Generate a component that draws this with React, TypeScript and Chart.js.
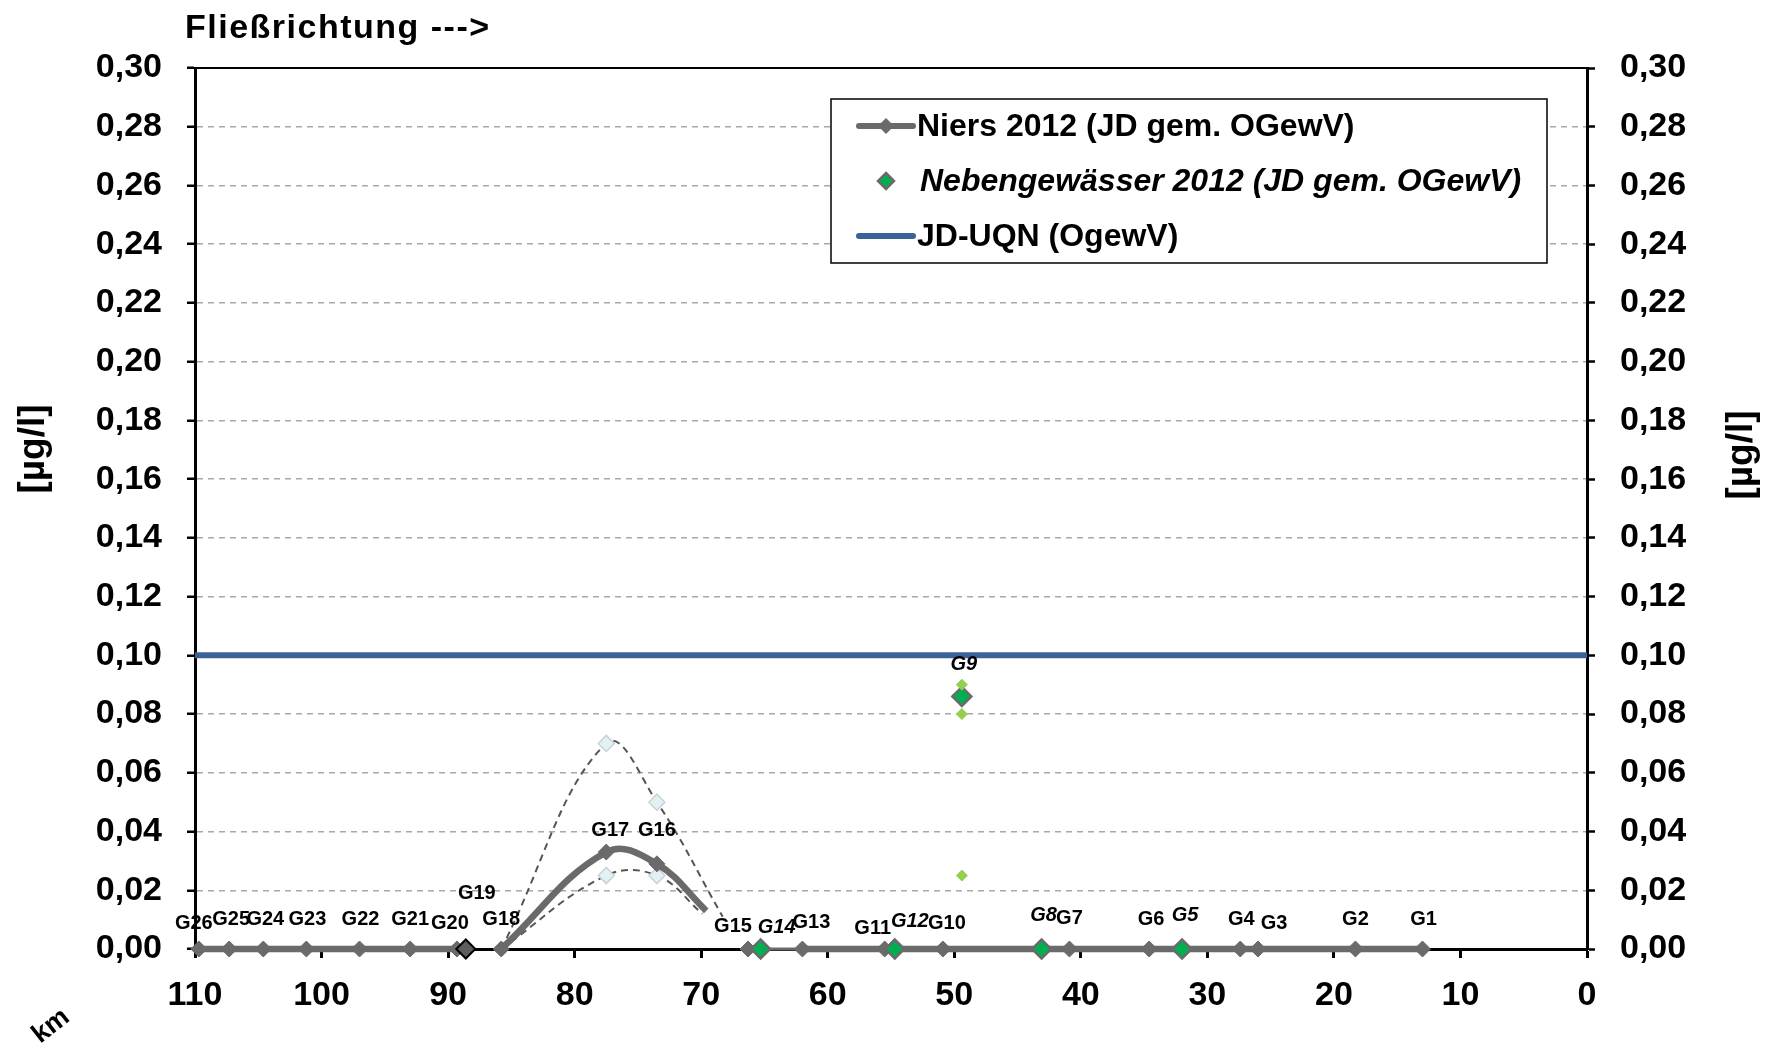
import { useEffect, useRef } from "react";
import { Chart, registerables } from "chart.js";

Chart.register(...registerables);

const FONT = '"Liberation Sans", Arial, Helvetica, sans-serif';

// ---------------- data ----------------
// Niers measuring points (km from mouth), annual mean (JD) and max / min envelope
const niersNames = ["G26", "G25", "G24", "G23", "G22", "G21", "G20", "G18", "G17", "G16", "G15", "G13", "G11", "G10", "G7", "G6", "G4", "G3", "G2", "G1"];
const niersKm = [109.7, 107.3, 104.6, 101.2, 97.0, 93.0, 89.3, 85.8, 77.5, 73.5, 66.3, 62.0, 55.5, 50.9, 40.9, 34.6, 27.4, 26.0, 18.3, 13.0];
const niersJD = [0, 0, 0, 0, 0, 0, 0, 0, 0.033, 0.029, 0, 0, 0, 0, 0, 0, 0, 0, 0, 0];
const niersMax = [0, 0, 0, 0, 0, 0, 0, 0, 0.070, 0.050, 0, 0, 0, 0, 0, 0, 0, 0, 0, 0];
const niersMin = [0, 0, 0, 0, 0, 0, 0, 0, 0.025, 0.025, 0, 0, 0, 0, 0, 0, 0, 0, 0, 0];
// line segments of the Niers series (index ranges, the line is broken between them)
const segA = [0, 7];
const segB = [7, 10];
const segC = [10, 20];
// where the smoothed lines after G16 stop (JD, max, min)
const tailKm = [69.6, 68.3, 69.9];
const tailValue = [0.013, 0.011, 0.012];

// G19 (separate marker)
const g19Km = 88.6;
const g19Value = 0;

// tributaries (Nebengewässer)
const nebenNames = ["G14", "G12", "G9", "G8", "G5"];
const nebenKm = [65.3, 54.7, 49.4, 43.1, 32.0];
const nebenJD = [0, 0, 0.086, 0, 0];
// single values at G9
const g9Km = 49.4;
const g9Singles = [0.090, 0.080, 0.025];

// environmental quality standard
const uqnValue = 0.10;

// axes
const xMin = 0;
const xMax = 110;
const xStep = 10;
const yMin = 0;
const yMax = 0.30;
const yStep = 0.02;

// ---------------- styles ----------------
const labelOffsets: Record<string, [number, number]> = {
  G26: [-5, -26], G25: [2, -30], G24: [2, -30], G23: [1, -30], G22: [1, -30], G21: [0, -30],
  G20: [-7, -26], G19: [11, -56], G18: [0, -30], G17: [4, -22], G16: [0, -33], G15: [-15, -23],
  G14: [16, -22], G13: [9, -27], G11: [-12, -21], G12: [15, -28], G10: [4, -26], G9: [2, -32],
  G8: [2, -34], G7: [0, -31], G6: [2, -30], G5: [3, -34], G4: [1, -30], G3: [16, -26],
  G2: [0, -30], G1: [1, -30],
};
const GRAY = "#6a6a6a";
const DASH_GRAY = "#555555";
const LIGHT_FILL = "#e2f1f3";
const LIGHT_BORDER = "#c9d3d5";
const GREEN = "#00b050";
const LIGHT_GREEN = "#92d050";
const BLUE = "#3b6296";

function pts(kms: number[], vals: number[], from: number, to: number) {
  const out: { x: number; y: number }[] = [];
  for (let i = from; i < to; i++) out.push({ x: kms[i], y: vals[i] });
  return out;
}

function diamond(ctx: CanvasRenderingContext2D, x: number, y: number, r: number) {
  ctx.beginPath();
  ctx.moveTo(x, y - r);
  ctx.lineTo(x + r, y);
  ctx.lineTo(x, y + r);
  ctx.lineTo(x - r, y);
  ctx.closePath();
}

const decorPlugin = {
  id: "decor",
  beforeDatasetsDraw(chart: any) {
    const { ctx, chartArea: a } = chart;
    ctx.save();
    ctx.strokeStyle = "#000";
    ctx.lineWidth = 2;
    ctx.beginPath();
    ctx.moveTo(a.left - 1, a.top);
    ctx.lineTo(a.right + 1, a.top);
    ctx.stroke();
    ctx.restore();
  },
  afterDatasetsDraw(chart: any) {
    const { ctx } = chart;
    const xs = chart.scales.x;
    const ys = chart.scales.y;
    ctx.save();
    ctx.fillStyle = "#000";
    ctx.textAlign = "center";
    ctx.textBaseline = "middle";
    const draw = (name: string, km: number, v: number, italic: boolean) => {
      const o = labelOffsets[name] || [0, -28];
      ctx.font = `${italic ? "italic " : ""}bold 20px ${FONT}`;
      ctx.fillText(name, xs.getPixelForValue(km) + o[0], ys.getPixelForValue(v) + o[1]);
    };
    niersNames.forEach((n, i) => draw(n, niersKm[i], niersJD[i], false));
    draw("G19", g19Km, g19Value, false);
    nebenNames.forEach((n, i) => draw(n, nebenKm[i], nebenJD[i], true));
    ctx.restore();
  },
  afterDraw(chart: any) {
    const { ctx } = chart;
    ctx.save();
    ctx.fillStyle = "#000";
    // title
    ctx.font = `bold 34px ${FONT}`;
    ctx.textAlign = "left";
    ctx.textBaseline = "alphabetic";
    try { (ctx as any).letterSpacing = "1.5px"; } catch (e) { /* ignore */ }
    ctx.fillText("Fließrichtung --->", 185, 38);
    try { (ctx as any).letterSpacing = "0px"; } catch (e) { /* ignore */ }
    // axis titles
    ctx.font = `bold 37px ${FONT}`;
    ctx.textAlign = "center";
    ctx.textBaseline = "middle";
    ctx.save();
    ctx.translate(34, 449);
    ctx.rotate(-Math.PI / 2);
    ctx.fillText("[µg/l]", 0, 0);
    ctx.restore();
    ctx.save();
    ctx.translate(1742, 455);
    ctx.rotate(-Math.PI / 2);
    ctx.fillText("[µg/l]", 0, 0);
    ctx.restore();
    // km
    ctx.save();
    ctx.font = `bold 27px ${FONT}`;
    ctx.translate(51, 1026);
    ctx.rotate(-38 * Math.PI / 180);
    ctx.fillText("km", 0, 0);
    ctx.restore();

    // legend
    const lx = 831, ly = 99, lw = 716, lh = 164;
    ctx.fillStyle = "#fff";
    ctx.fillRect(lx, ly, lw, lh);
    ctx.strokeStyle = "#000";
    ctx.lineWidth = 1.5;
    ctx.strokeRect(lx, ly, lw, lh);
    const rows = [126, 181, 236];
    ctx.lineCap = "round";
    // Niers
    ctx.strokeStyle = GRAY;
    ctx.lineWidth = 6;
    ctx.beginPath();
    ctx.moveTo(859, rows[0]);
    ctx.lineTo(913, rows[0]);
    ctx.stroke();
    ctx.fillStyle = GRAY;
    diamond(ctx, 886, rows[0], 8);
    ctx.fill();
    // Nebengewässer
    ctx.fillStyle = GREEN;
    ctx.strokeStyle = GRAY;
    ctx.lineWidth = 2.5;
    diamond(ctx, 886, rows[1], 8);
    ctx.fill();
    ctx.stroke();
    // JD-UQN
    ctx.strokeStyle = BLUE;
    ctx.lineWidth = 6;
    ctx.beginPath();
    ctx.moveTo(859, rows[2]);
    ctx.lineTo(913, rows[2]);
    ctx.stroke();
    ctx.fillStyle = "#000";
    ctx.textAlign = "left";
    ctx.textBaseline = "middle";
    ctx.font = `bold 32px ${FONT}`;
    ctx.fillText("Niers 2012 (JD gem. OGewV)", 917, rows[0] + 1);
    ctx.font = `italic bold 32px ${FONT}`;
    ctx.fillText("Nebengewässer 2012 (JD gem. OGewV)", 920, rows[1] + 1);
    ctx.font = `bold 32px ${FONT}`;
    ctx.fillText("JD-UQN (OgewV)", 917, rows[2] + 1);
    ctx.restore();
  },
};

export default function App() {
  const ref = useRef<HTMLCanvasElement>(null);

  useEffect(() => {
    const canvas = ref.current;
    if (!canvas) return;

    const tail = (k: number) => ({ x: tailKm[k], y: tailValue[k] });

    const niersLine = (data: any[], radii: number | number[]) => ({
      label: "Niers 2012 (JD gem. OGewV)",
      data,
      showLine: true,
      borderColor: GRAY,
      borderWidth: 6.5,
      backgroundColor: GRAY,
      pointStyle: "rectRot",
      pointRadius: radii,
      pointBackgroundColor: GRAY,
      pointBorderColor: GRAY,
      pointBorderWidth: 1,
      tension: 0.4,
      clip: false,
      order: 4,
    });
    const envLine = (data: any[]) => ({
      label: "env",
      data,
      showLine: true,
      borderColor: DASH_GRAY,
      borderWidth: 2,
      borderDash: [7, 5],
      pointStyle: "rectRot",
      pointRadius: data.map((_: any, i: number) => (i === 1 || i === 2 ? 8 : 0)),
      pointBackgroundColor: LIGHT_FILL,
      pointBorderColor: LIGHT_BORDER,
      pointBorderWidth: 1.5,
      tension: 0.4,
      clip: false,
      order: 5,
    });

    const datasets: any[] = [
      {
        label: "JD-UQN (OgewV)",
        data: [{ x: xMin, y: uqnValue }, { x: xMax, y: uqnValue }],
        showLine: true,
        borderColor: BLUE,
        borderWidth: 6,
        pointRadius: 0,
        clip: false,
        order: 6,
      },
      envLine([...pts(niersKm, niersMax, segB[0], segB[1]), tail(1)]),
      envLine([...pts(niersKm, niersMin, segB[0], segB[1]), tail(2)]),
      niersLine(pts(niersKm, niersJD, segA[0], segA[1]), 8),
      niersLine([...pts(niersKm, niersJD, segB[0], segB[1]), tail(0)], [8, 8, 8, 0]),
      {
        ...niersLine(pts(niersKm, niersJD, segC[0], segC[1]), 8),
        segment: { borderWidth: (c: any) => (c.p0DataIndex === 0 ? 3 : 6.5) },
      },
      {
        label: "G19",
        data: [{ x: g19Km, y: g19Value }],
        showLine: false,
        pointStyle: "rectRot",
        pointRadius: 9.5,
        pointBackgroundColor: "#5e5e5e",
        pointBorderColor: "#000",
        pointBorderWidth: 2,
        clip: false,
        order: 3,
      },
      {
        label: "Nebengewässer 2012 (JD gem. OGewV)",
        data: nebenKm.map((k, i) => ({ x: k, y: nebenJD[i] })),
        showLine: false,
        pointStyle: "rectRot",
        pointRadius: 9.5,
        pointBackgroundColor: GREEN,
        pointBorderColor: GRAY,
        pointBorderWidth: 2.5,
        clip: false,
        order: 2,
      },
      {
        label: "G9 Einzelwerte",
        data: g9Singles.map((v) => ({ x: g9Km, y: v })),
        showLine: false,
        pointStyle: "rectRot",
        pointRadius: 5.5,
        pointBackgroundColor: LIGHT_GREEN,
        pointBorderColor: LIGHT_GREEN,
        pointBorderWidth: 1,
        clip: false,
        order: 1,
      },
    ];

    const tickFont = { family: FONT, size: 34, weight: "bold" as const };

    const chart = new Chart(canvas, {
      type: "line",
      data: { datasets },
      plugins: [decorPlugin],
      options: {
        animation: false,
        responsive: false,
        devicePixelRatio: 1,
        layout: { padding: { top: 68, left: 0, right: 0, bottom: 0 } },
        plugins: { legend: { display: false }, tooltip: { enabled: false } },
        events: [],
        scales: {
          x: {
            type: "linear",
            reverse: true,
            min: xMin,
            max: xMax,
            afterFit: (s: any) => { s.height = 96; },
            afterBuildTicks: (s: any) => {
              const t = [];
              for (let v = xMin; v <= xMax; v += xStep) t.push({ value: v });
              s.ticks = t;
            },
            ticks: {
              color: "#000",
              font: tickFont,
              padding: 17,
              maxRotation: 0,
              autoSkip: false,
              callback: (v: any) => String(v),
            },
            grid: {
              drawOnChartArea: false,
              drawTicks: true,
              tickLength: 9,
              tickColor: "#000",
              tickWidth: 3,
            },
            border: { display: true, color: "#000", width: 3 },
          },
          y: {
            type: "linear",
            position: "left",
            min: yMin,
            max: yMax,
            afterFit: (s: any) => { s.width = 195; },
            afterBuildTicks: (s: any) => {
              const t = [];
              const n = Math.round((yMax - yMin) / yStep);
              for (let i = 0; i <= n; i++) t.push({ value: +(yMin + i * yStep).toFixed(2) });
              s.ticks = t;
            },
            ticks: {
              color: "#000",
              font: tickFont,
              padding: 25,
              callback: (v: any) => Number(v).toFixed(2).replace(".", ","),
            },
            grid: {
              color: (c: any) => (c.index === 0 || c.index === 15 ? "rgba(0,0,0,0)" : "#a8a8a8"),
              lineWidth: 1.5,
              tickLength: 8,
              tickColor: "#000",
              tickWidth: 2.5,
            },
            border: { display: true, color: "#000", width: 3, dash: [6, 5] },
          },
          y2: {
            type: "linear",
            position: "right",
            min: yMin,
            max: yMax,
            afterFit: (s: any) => { s.width = 189; },
            afterBuildTicks: (s: any) => {
              const t = [];
              const n = Math.round((yMax - yMin) / yStep);
              for (let i = 0; i <= n; i++) t.push({ value: +(yMin + i * yStep).toFixed(2) });
              s.ticks = t;
            },
            ticks: {
              color: "#000",
              font: tickFont,
              padding: 25,
              callback: (v: any) => Number(v).toFixed(2).replace(".", ","),
            },
            grid: {
              drawOnChartArea: false,
              tickLength: 8,
              tickColor: "#000",
              tickWidth: 2.5,
            },
            border: { display: true, color: "#000", width: 3 },
          },
        },
      } as any,
    });

    return () => chart.destroy();
  }, []);

  return (
    <div style={{ position: "fixed", left: 0, top: 0, width: 1776, height: 1045, background: "#fff" }}>
      <canvas ref={ref} width={1776} height={1045} style={{ display: "block", width: 1776, height: 1045 }} />
    </div>
  );
}
